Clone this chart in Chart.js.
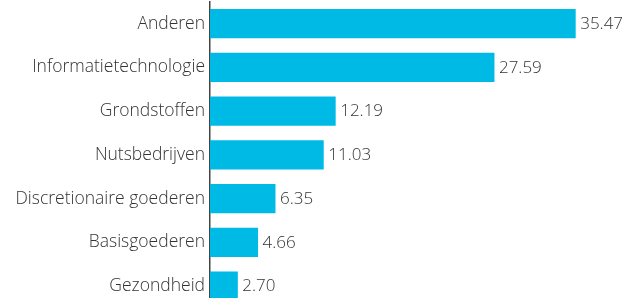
<!DOCTYPE html>
<html>
<head>
<meta charset="utf-8">
<script src="https://cdn.jsdelivr.net/npm/chart.js@4/dist/chart.umd.min.js"></script>
<style>
	html, body { margin: 0; padding: 0; background: #fff; overflow: hidden; }
	canvas { display: block; }
</style>
</head>
<body>
<canvas id="chart" width="638" height="308"></canvas>
<script>
var categories = ['Anderen', 'Informatietechnologie', 'Grondstoffen', 'Nutsbedrijven', 'Discretionaire goederen', 'Basisgoederen', 'Gezondheid'];
var values = [35.47, 27.59, 12.19, 11.03, 6.35, 4.66, 2.70];

var fontFamily = '"Open Sans", Lato, sans-serif';
var textColor = '#333';

/* Draw the value next to the end of each bar */
var valueLabels = {
	id: 'valueLabels',
	afterDatasetsDraw: function (chart) {
		var ctx = chart.ctx;
		var meta = chart.getDatasetMeta(0);
		ctx.save();
		ctx.font = '300 17px ' + fontFamily;
		ctx.fillStyle = textColor;
		ctx.textAlign = 'left';
		ctx.textBaseline = 'middle';
		meta.data.forEach(function (bar, i) {
			ctx.fillText(values[i].toFixed(2), bar.x + 4.5, bar.y + 0.5);
		});
		ctx.restore();
	}
};

new Chart(document.getElementById('chart'), {
	type: 'bar',
	data: {
		labels: categories,
		datasets: [{
			data: values,
			backgroundColor: '#00bae6',
			borderWidth: 0,
			barPercentage: 0.665,
			categoryPercentage: 1
		}]
	},
	options: {
		indexAxis: 'y',
		responsive: false,
		animation: false,
		layout: { padding: { top: 1.7, right: 15.6, bottom: 0, left: 0 } },
		plugins: {
			legend: { display: false },
			tooltip: { enabled: false }
		},
		scales: {
			x: {
				display: false,
				min: 0,
				max: 40
			},
			y: {
				afterFit: function (scale) {
					scale.width = 210;
					scale.paddingTop = 0;
					scale.paddingBottom = 0;
				},
				grid: { display: false, drawTicks: false },
				border: { display: true, color: '#444', width: 1.5 },
				ticks: {
					color: textColor,
					padding: 5,
					font: { family: fontFamily, size: 17.5, weight: '300' }
				}
			}
		}
	},
	plugins: [valueLabels]
});
</script>
</body>
</html>
